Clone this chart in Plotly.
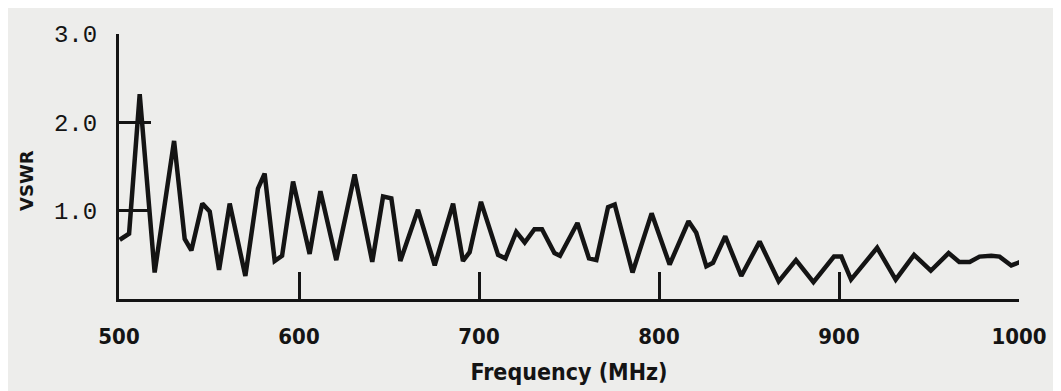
import plotly.graph_objects as go

# Frequency (MHz) and VSWR
freq = [500.4, 505.6, 511.5, 519.8, 530.6, 536.5, 540.2, 546.3, 550.4, 555.6,
        561.5, 570.2, 577.2, 580.9, 586.5, 590.6, 596.7, 605.9, 611.9, 620.7,
        630.9, 640.7, 646.7, 651.3, 656.3, 666.1, 675.4, 685.6, 691.1, 694.8,
        701.1, 710.6, 714.7, 720.7, 725.4, 730.8, 735.0, 741.9, 745.0, 754.7,
        761.1, 765.2, 771.7, 775.4, 785.3, 795.9, 805.9, 816.4, 820.7, 826.3,
        830.0, 836.8, 845.7, 855.9, 866.5, 876.1, 885.8, 897.2, 901.3, 906.7,
        921.2, 931.5, 941.7, 951.0, 960.9, 966.8, 972.6, 978.1, 984.6, 989.2,
        995.7, 1000.8]
vswr = [0.67, 0.74, 2.32, 0.30, 1.79, 0.68, 0.55, 1.08, 0.99, 0.33,
        1.08, 0.26, 1.25, 1.42, 0.43, 0.49, 1.33, 0.51, 1.22, 0.44,
        1.41, 0.42, 1.16, 1.14, 0.43, 1.01, 0.38, 1.08, 0.43, 0.53,
        1.10, 0.50, 0.46, 0.76, 0.64, 0.79, 0.79, 0.52, 0.49, 0.86,
        0.46, 0.44, 1.04, 1.07, 0.30, 0.97, 0.39, 0.88, 0.75, 0.37,
        0.41, 0.71, 0.26, 0.65, 0.20, 0.44, 0.19, 0.48, 0.48, 0.22,
        0.58, 0.22, 0.50, 0.32, 0.52, 0.42, 0.42, 0.48, 0.49, 0.48,
        0.38, 0.42]

x_ticks = [500, 600, 700, 800, 900, 1000]
x_tick_labels = ["500", "600", "700", "800", "900", "1000"]
y_ticks = [1.0, 2.0, 3.0]
y_tick_labels = ["1.0", "2.0", "3.0"]

INK = "#141414"
PAPER = "#ededeb"
COND = "DejaVu Sans Condensed, Liberation Sans Narrow, sans-serif"

fig = go.Figure()
fig.add_trace(go.Scatter(x=freq, y=vswr, mode="lines",
                         line=dict(color=INK, width=4.5), showlegend=False,
                         hoverinfo="skip"))

fig.update_layout(
    width=1061, height=391,
    margin=dict(l=111, r=50, t=26, b=100, autoexpand=False),
    paper_bgcolor=PAPER, plot_bgcolor=PAPER,
    xaxis=dict(range=[500, 1000], tickvals=x_ticks, ticktext=x_tick_labels,
               ticks="inside", ticklen=27, tickwidth=3, tickcolor=INK,
               showline=True, linewidth=3, linecolor=INK,
               showgrid=False, zeroline=False,
               tickfont=dict(family=COND, size=22, color=INK, weight="bold"),
               ticklabelstandoff=16,
               title=dict(text="Frequency (MHz)", standoff=16,
                          font=dict(family=COND, size=23, color=INK, weight="bold"))),
    yaxis=dict(range=[0, 3.0], tickvals=y_ticks, ticktext=y_tick_labels,
               ticks="inside", ticklen=32, tickwidth=3, tickcolor=INK,
               showline=True, linewidth=3, linecolor=INK,
               showgrid=False, zeroline=False,
               tickfont=dict(family="Liberation Mono, DejaVu Sans Mono, monospace",
                             size=24, color=INK),
               ticklabelstandoff=14),
    annotations=[dict(text="VSWR", textangle=-90, showarrow=False,
                      xref="paper", yref="paper", x=(18 - 111) / 900,
                      y=(291 - 173) / 265, xanchor="center", yanchor="middle",
                      font=dict(family="DejaVu Sans, Liberation Sans, sans-serif",
                                size=18, color=INK, weight="bold"))],
)

fig.write_html("out.html")
